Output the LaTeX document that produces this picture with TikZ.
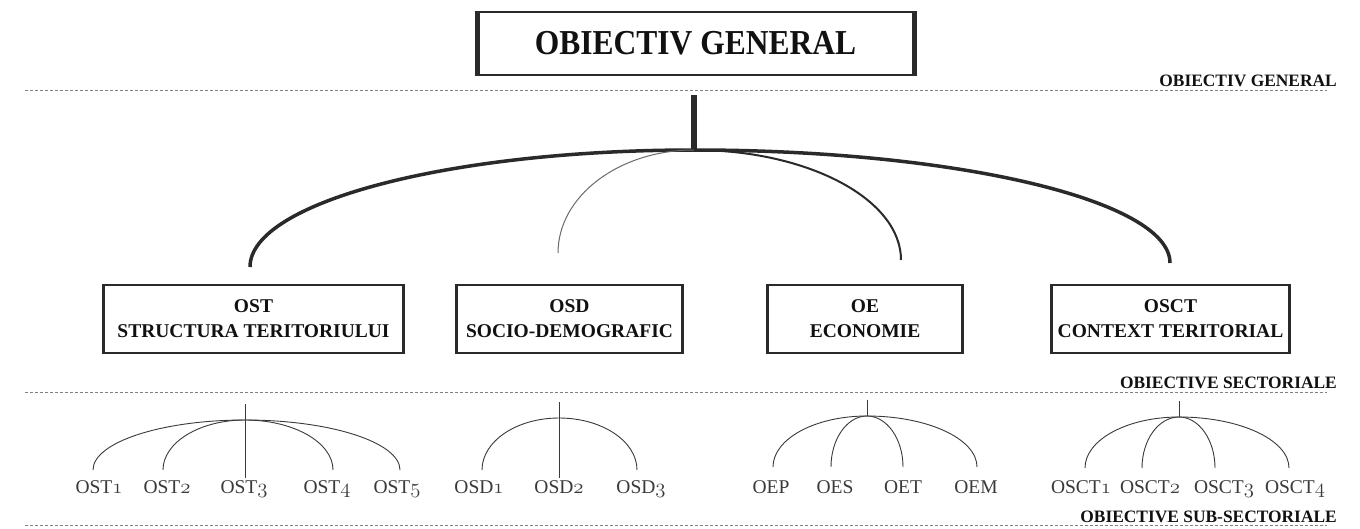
\documentclass[tikz,border=0pt]{standalone}
\usepackage{fontspec}
\setmainfont{Liberation Serif}
\usetikzlibrary{calc}
\definecolor{txt}{HTML}{111111}
\definecolor{ln}{HTML}{2A2A2A}
\definecolor{sub}{HTML}{3A3A3A}
\definecolor{dash}{HTML}{808080}
\newcommand\osn[1]{{\usefont{OML}{lmm}{m}{it}#1}}
\newcommand\qell[3][]{\draw[#1] (#2) .. controls ($(#2)!0.552!(#2 -| #3)$) and ($(#3)!0.552!(#3 |- #2)$) .. (#3);}
\tikzset{
  topbox/.style={draw=ln, line width=2pt, minimum width=435pt, minimum height=63pt, inner sep=0pt,
    font=\fontsize{35}{40}\selectfont\bfseries, text=txt},
  secbox/.style={draw=ln, line width=1.6pt, minimum height=68pt, inner sep=0pt, align=center,
    font=\fontsize{19.5}{25}\selectfont\bfseries, text=txt},
  sideline/.style={draw=ln, line width=3.2pt},
  levellabel/.style={anchor=base east, inner sep=0pt, font=\fontsize{17.4}{20}\selectfont\bfseries, text=txt},
  levelline/.style={draw=dash, line width=1pt, dash pattern=on 3pt off 2pt},
  sublabel/.style={anchor=base, inner sep=2pt, font=\fontsize{19.5}{22}\selectfont, text=sub},
  subline/.style={draw=sub, line width=0.9pt},
}
\begin{document}
\begin{tikzpicture}[x=1pt,y=-1pt]
\useasboundingbox (0,0) rectangle (1360,528);
\fill[white] (0,0) rectangle (1360,528);

% top box
\node[topbox] (og) at (695.5,43.5) {\scalebox{0.9}[1]{OBIECTIV GENERAL}};
\draw[draw=ln, line width=5pt] (og.north west) -- (og.south west);
\draw[draw=ln, line width=5pt] (og.north east) -- (og.south east);

% level lines and labels
\coordinate (d1a) at (25,90);  \coordinate (d1b) at (1327,90);
\coordinate (d2a) at (25,392); \coordinate (d2b) at (1327,392);
\coordinate (d3a) at (25,525); \coordinate (d3b) at (1327,525);
\draw[levelline] (d1a) -- (d1b);
\draw[levelline] (d2a) -- (d2b);
\draw[levelline] (d3a) -- (d3b);
\node[levellabel] (lab1) at (1337,86) {OBIECTIV GENERAL};
\node[levellabel] (lab2) at (1337,388) {OBIECTIVE SECTORIALE};
\node[levellabel] (lab3) at (1337,522) {OBIECTIVE SUB-SECTORIALE};

% main stem and arcs
\coordinate (s0) at (694,95);
\coordinate (j0) at (694,150);
\draw[draw=ln, line width=6pt] (s0) -- (j0);
\coordinate (e1) at (250,267);
\coordinate (e2) at (558,253);
\coordinate (e3) at (901,260);
\coordinate (e4) at (1170,263);
\qell[draw=ln, line width=3.5pt]{j0}{e1}
\qell[draw=ln!70, line width=1pt]{j0}{e2}
\qell[draw=ln, line width=2pt]{j0}{e3}
\qell[draw=ln, line width=3.5pt]{j0}{e4}

% sector boxes
\node[secbox, minimum width=299pt] (b1) at (253.5,319) {OST\\STRUCTURA TERITORIULUI};
\node[secbox, minimum width=225pt] (b2) at (569.5,319) {OSD\\SOCIO-DEMOGRAFIC};
\node[secbox, minimum width=194pt] (b3) at (865,319) {OE\\ECONOMIE};
\node[secbox, minimum width=237pt] (b4) at (1170.5,319) {OSCT\\CONTEXT TERITORIAL};
\foreach \b in {b1,b2,b3,b4}{
  \draw[sideline] (\b.north west) -- (\b.south west);
  \draw[sideline] (\b.north east) -- (\b.south east);
}

% OST subtree
\node[sublabel] (L11) at (99,493) {OST\osn{1}};
\node[sublabel] (L12) at (167,493) {OST\osn{2}};
\node[sublabel] (L13) at (244,493) {OST\osn{3}};
\node[sublabel] (L14) at (327,493) {OST\osn{4}};
\node[sublabel] (L15) at (397,493) {OST\osn{5}};
\coordinate (s1) at (245,404);
\coordinate (j1) at (245,420);
\draw[subline] (s1) -- (s1 |- L13.north);
\coordinate (c11) at (93,470);
\coordinate (c12) at (163,470);
\coordinate (c14) at (333,470);
\coordinate (c15) at (400,470);
\qell[subline]{j1}{c11}
\qell[subline]{j1}{c12}
\qell[subline]{j1}{c14}
\qell[subline]{j1}{c15}

% OSD subtree
\node[sublabel] (L21) at (479,493) {OSD\osn{1}};
\node[sublabel] (L22) at (559,493) {OSD\osn{2}};
\node[sublabel] (L23) at (641,493) {OSD\osn{3}};
\coordinate (s2) at (559,402);
\coordinate (j2) at (559,418);
\draw[subline] (s2) -- (s2 |- L22.north);
\coordinate (c21) at (482,470);
\coordinate (c23) at (637,470);
\qell[subline]{j2}{c21}
\qell[subline]{j2}{c23}

% OE subtree
\node[sublabel] (L31) at (771,493) {OEP};
\node[sublabel] (L32) at (835,493) {OES};
\node[sublabel] (L33) at (903,493) {OET};
\node[sublabel] (L34) at (976,493) {OEM};
\coordinate (s3) at (867,400);
\coordinate (j3) at (867,416);
\draw[subline] (s3) -- (j3);
\coordinate (c31) at (773,467);
\coordinate (c32) at (831,467);
\coordinate (c33) at (903,467);
\coordinate (c34) at (977,467);
\qell[subline]{j3}{c31}
\qell[subline]{j3}{c32}
\qell[subline]{j3}{c33}
\qell[subline]{j3}{c34}

% OSCT subtree
\node[sublabel] (L41) at (1081,493) {OSCT\osn{1}};
\node[sublabel] (L42) at (1150,493) {OSCT\osn{2}};
\node[sublabel] (L43) at (1224,493) {OSCT\osn{3}};
\node[sublabel] (L44) at (1295,493) {OSCT\osn{4}};
\coordinate (s4) at (1179,401);
\coordinate (j4) at (1179,417);
\draw[subline] (s4) -- (j4);
\coordinate (c41) at (1085,468);
\coordinate (c42) at (1142,468);
\coordinate (c43) at (1215,468);
\coordinate (c44) at (1289,468);
\qell[subline]{j4}{c41}
\qell[subline]{j4}{c42}
\qell[subline]{j4}{c43}
\qell[subline]{j4}{c44}
\end{tikzpicture}
\end{document}
